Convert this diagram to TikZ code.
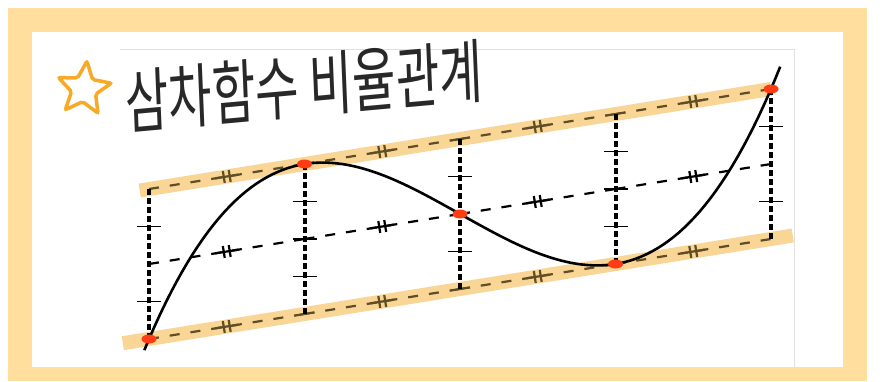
\documentclass[tikz,border=0pt]{standalone}
\usepackage{fontspec}
\newfontfamily\krfont{Noto Sans CJK KR}
\usepackage{tikz}
\usetikzlibrary{calc, positioning, shapes.geometric, decorations.markings}
\definecolor{frameBg}{RGB}{255, 222, 158}
\definecolor{bandBg}{RGB}{250, 214, 150}
\definecolor{bandDash}{RGB}{95, 78, 35}
\definecolor{starGold}{RGB}{247, 170, 40}
\definecolor{dotRed}{RGB}{255, 60, 20}
\definecolor{inkGray}{RGB}{40, 40, 40}

\begin{document}
\begin{tikzpicture}[x=1pt, y=-1pt,
  band/.style={draw=bandBg, line width=14pt},
  guide/.style={line width=2.2pt, dash pattern=on 10pt off 11pt},
  dticks/.style={postaction={decorate}, decoration={markings,
    mark=at position 0.5 with {\draw[solid, line width=2.2pt, #1]
      (-12,0) -- (12,0) (-3,-6) -- (-3,6) (3,-6) -- (3,6);}}},
  vline/.style={line width=4pt, dash pattern=on 5.5pt off 3.5pt},
  tick/.style={line width=1.8pt}]
  \useasboundingbox (0,0) rectangle (884,381);
  \fill[frameBg] (8,8) rectangle (867,381);
  \fill[white] (32,32) rectangle (843,367);
  \draw[black!12, line width=0.8pt] (120,49) -- (794,49) -- (794,367);

  \node[star, star points=5, star point ratio=2.2, minimum size=56pt, inner sep=0pt,
    draw=starGold, line width=3.5pt, rounded corners=2pt, rotate=-6] (star) at (84,89) {};
  \node[font=\krfont\fontsize{70}{70}\selectfont, text=inkGray, xscale=0.675, rotate=3.5,
    inner sep=0pt] (title) at (304,86) {삼차함수 비율관계};

  \coordinate (TL) at (149,189);
  \coordinate (P2) at (304.5,164);
  \coordinate (TM) at (460,139);
  \coordinate (TQ) at (615.5,114);
  \coordinate (P5) at (771,89);
  \coordinate (ML) at (149,264);
  \coordinate (MA) at (304.5,239);
  \coordinate (P3) at (460,214);
  \coordinate (MB) at (615.5,189);
  \coordinate (MR) at (771,164);
  \coordinate (P1) at (149,339);
  \coordinate (BA) at (304.5,314);
  \coordinate (BM) at (460,289);
  \coordinate (P4) at (615.5,264);
  \coordinate (BR) at (771,239);

  \draw[band] ($(TL)!-0.015!(P5)$) -- (P5);
  \draw[band] ($(P1)!-0.042!(BR)$) -- ($(BR)!-0.035!(P1)$);

  \foreach \a/\b in {TL/P2, P2/TM, TM/TQ, TQ/P5, P1/BA, BA/BM, BM/P4, P4/BR}
    \draw[guide, bandDash, dticks=bandDash] (\a) -- (\b);
  \foreach \a/\b in {ML/MA, MA/P3, P3/MB, MB/MR}
    \draw[guide, dticks=black] (\a) -- (\b);
  \foreach \c in {TM, TQ, BA, BM}
    \draw[tick, bandDash] (\c) ++(-10,1.6) -- ++(20,-3.2);

  \foreach \a/\b in {TL/P1, P2/BA, TM/BM, TQ/P4, P5/BR}
    \draw[vline] (\a) -- (\b);
  \foreach \a/\b/\qs in {TL/P1/{0.25,0.75}, P2/BA/{0.25,0.5,0.75}, TM/BM/{0.25,0.75},
      TQ/P4/{0.25,0.5,0.75}, P5/BR/{0.25,0.75}}
    \foreach \q in \qs
      \draw[tick] ($(\a)!\q!(\b)$) ++(-12,0) -- ++(24,0);

  \draw[line width=2.6pt] plot[domain=-2.03:2.06, samples=120]
    ({460+155.5*\x}, {214-37.5*\x*\x*\x+87.47*\x});

  \foreach \p in {P1, P2, P3, P4, P5}
    \fill[dotRed] (\p) ellipse (7.5pt and 4.5pt);
\end{tikzpicture}
\end{document}
